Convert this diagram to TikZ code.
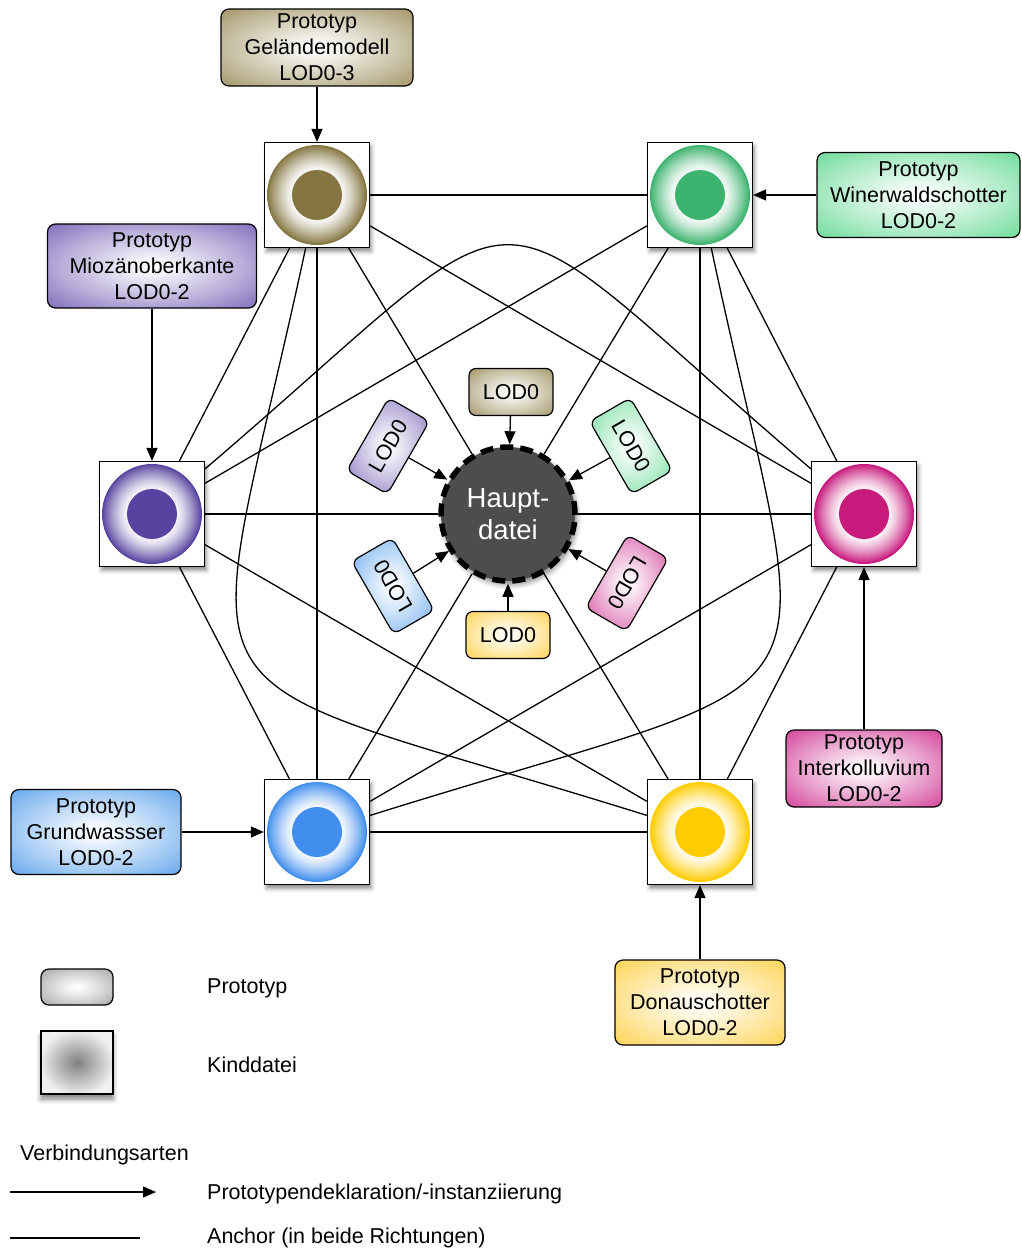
\documentclass[tikz,border=0pt]{standalone}
\usepackage{fontspec}
\setmainfont{Liberation Sans}
\usetikzlibrary{arrows.meta,shadows.blur}
\definecolor{colA}{RGB}{131,116,64}
\definecolor{colW}{RGB}{60,179,110}
\definecolor{colM}{RGB}{88,68,160}
\definecolor{colI}{RGB}{200,25,125}
\definecolor{colG}{RGB}{66,142,238}
\definecolor{colD}{RGB}{255,204,0}
\definecolor{pA}{RGB}{150,135,82}
\definecolor{pW}{RGB}{90,215,140}
\definecolor{pM}{RGB}{112,88,178}
\definecolor{pI}{RGB}{205,40,140}
\definecolor{pG}{RGB}{80,155,235}
\definecolor{pD}{RGB}{255,205,60}
\definecolor{hubgray}{RGB}{77,77,77}
\colorlet{pc}{gray}
\pgfdeclareradialshading[pc]{protosh}{\pgfpoint{0bp}{0bp}}{color(0bp)=(white);color(5bp)=(pc!8!white);color(22bp)=(pc!50!white);color(40bp)=(pc);color(75bp)=(pc)}
\pgfdeclareradialshading{kindsh}{\pgfpoint{0bp}{0bp}}{color(0bp)=(black!50);color(26bp)=(black!6);color(75bp)=(black!6)}
\tikzset{
  txt/.style={font=\fontsize{21.5}{26}\selectfont},
  proto/.style={rectangle, rounded corners=8pt, draw=black, line width=1.2pt,
    /utils/exec={\colorlet{pc}{#1}}, shade, shading=protosh, align=center,
    inner sep=1pt, txt},
  lod/.style={proto=#1, minimum width=84pt, minimum height=47pt, rounded corners=7pt},
  childbox/.style={rectangle, draw=black, line width=1.2pt, fill=white,
    minimum size=105pt, inner sep=0pt,
    blur shadow={shadow xshift=2pt, shadow yshift=-4pt, shadow blur radius=4pt, shadow opacity=45}},
  hub/.style={circle, minimum size=134pt, inner sep=0pt, fill=hubgray, draw=black,
    line width=5.5pt, dash pattern=on 13pt off 7pt, text=white, align=center,
    font=\fontsize{27.5}{32}\selectfont,
    blur shadow={shadow xshift=2pt, shadow yshift=-4pt, shadow blur radius=5pt, shadow opacity=45}},
  edge/.style={line width=1.3pt, draw=black},
  arr/.style={line width=1.3pt, draw=black, -{Triangle[length=13pt,width=11pt]}}
}
\begin{document}
\begin{tikzpicture}[x=1pt,y=-1pt]
\useasboundingbox (0,0) rectangle (1021,1251);
% child files
\node[childbox] (A) at (317,195) {};
\node[childbox] (W) at (700,195) {};
\node[childbox] (M) at (152,514) {};
\node[childbox] (I) at (864,514) {};
\node[childbox] (G) at (317,832) {};
\node[childbox] (D) at (700,832) {};
\foreach \n/\c in {A/colA,W/colW,M/colM,I/colI,G/colG,D/colD}{
  \foreach \r in {50,49,...,26}{
    \pgfmathtruncatemacro\p{6+94*((\r-25)/25)^1.3}
    \fill[\c!\p!white] (\n.center) circle[radius=1pt*\r];
  }
  \fill[\c] (\n.center) circle[radius=25pt];
}
% hub
\node[hub] (H) at (508,514) {Haupt-\\datei};
% anchors (straight)
\draw[edge] (A) -- (W);
\draw[edge] (A) -- (M);
\draw[edge] (A) -- (G);
\draw[edge] (A) -- (I);
\draw[edge] (A) -- (H);
\draw[edge] (W) -- (M);
\draw[edge] (W) -- (D);
\draw[edge] (W) -- (I);
\draw[edge] (W) -- (H);
\draw[edge] (M) -- (G);
\draw[edge] (M) -- (D);
\draw[edge] (M) -- (H);
\draw[edge] (I) -- (G);
\draw[edge] (I) -- (D);
\draw[edge] (I) -- (H);
\draw[edge] (G) -- (D);
\draw[edge] (G) -- (H);
\draw[edge] (D) -- (H);
% anchors (curved)
\draw[edge] (M) .. controls (555,170) and (461,170) .. (I);
\draw[edge] (A) .. controls (200,740) and (150,660) .. (D);
\draw[edge] (W) .. controls (816,740) and (866,660) .. (G);
% large prototypes
\node[proto=pA, minimum width=192pt, minimum height=77pt] (pa) at (317,47.5) {Prototyp\\Geländemodell\\LOD0-3};
\node[proto=pW, minimum width=203pt, minimum height=85pt] (pw) at (918.5,195) {Prototyp\\Winerwaldschotter\\LOD0-2};
\node[proto=pM, minimum width=209pt, minimum height=84pt] (pm) at (152,266) {Prototyp\\Miozänoberkante\\LOD0-2};
\node[proto=pI, minimum width=156pt, minimum height=77pt] (pi) at (864,768.5) {Prototyp\\Interkolluvium\\LOD0-2};
\node[proto=pG, minimum width=170pt, minimum height=85pt] (pg) at (96,832) {Prototyp\\Grundwassser\\LOD0-2};
\node[proto=pD, minimum width=170pt, minimum height=85pt] (pd) at (700,1002.5) {Prototyp\\Donauschotter\\LOD0-2};
\draw[arr] (pa) -- (A);
\draw[arr] (pw) -- (W);
\draw[arr] (pm) -- (M);
\draw[arr] (pi) -- (I);
\draw[arr] (pg) -- (G);
\draw[arr] (pd) -- (D);
% small LOD0 prototypes
\node[lod=pA] (l1) at (511,392) {LOD0};
\node[lod=pM, rotate=60] (l2) at (388,446) {LOD0};
\node[lod=pW, rotate=-60] (l3) at (631,446) {LOD0};
\node[lod=pG, rotate=120] (l4) at (393,586) {LOD0};
\node[lod=pI, rotate=-120] (l5) at (627,583) {LOD0};
\node[lod=pD] (l6) at (508,635) {LOD0};
\foreach \l in {l1,l2,l3,l4,l5,l6}{\draw[arr] (\l) -- (H);}
% legend
\node[proto=black!40, minimum width=72pt, minimum height=36pt] (lp) at (77,987) {};
\node[rectangle, draw=black, line width=1.2pt, minimum width=72pt, minimum height=63pt,
  shade, shading=kindsh,
  blur shadow={shadow xshift=0pt, shadow yshift=-5pt, shadow blur radius=5pt, shadow opacity=50}] (lk) at (77,1062.5) {};
\node[txt, anchor=west, inner sep=0pt] (tp) at (207,988) {Prototyp};
\node[txt, anchor=west, inner sep=0pt] (tk) at (207,1065) {Kinddatei};
\node[txt, anchor=west, inner sep=0pt] (tv) at (20,1155) {Verbindungsarten};
\node[txt, anchor=west, inner sep=0pt] (ta) at (207,1194) {Prototypendeklaration/-instanziierung};
\node[txt, anchor=west, inner sep=0pt] (tb) at (207,1238) {Anchor (in beide Richtungen)};
\coordinate (a1) at (10,1192);
\coordinate (a2) at (156,1192);
\coordinate (b1) at (10,1238);
\coordinate (b2) at (140,1238);
\draw[arr] (a1) -- (a2);
\draw[edge] (b1) -- (b2);
\end{tikzpicture}
\end{document}
